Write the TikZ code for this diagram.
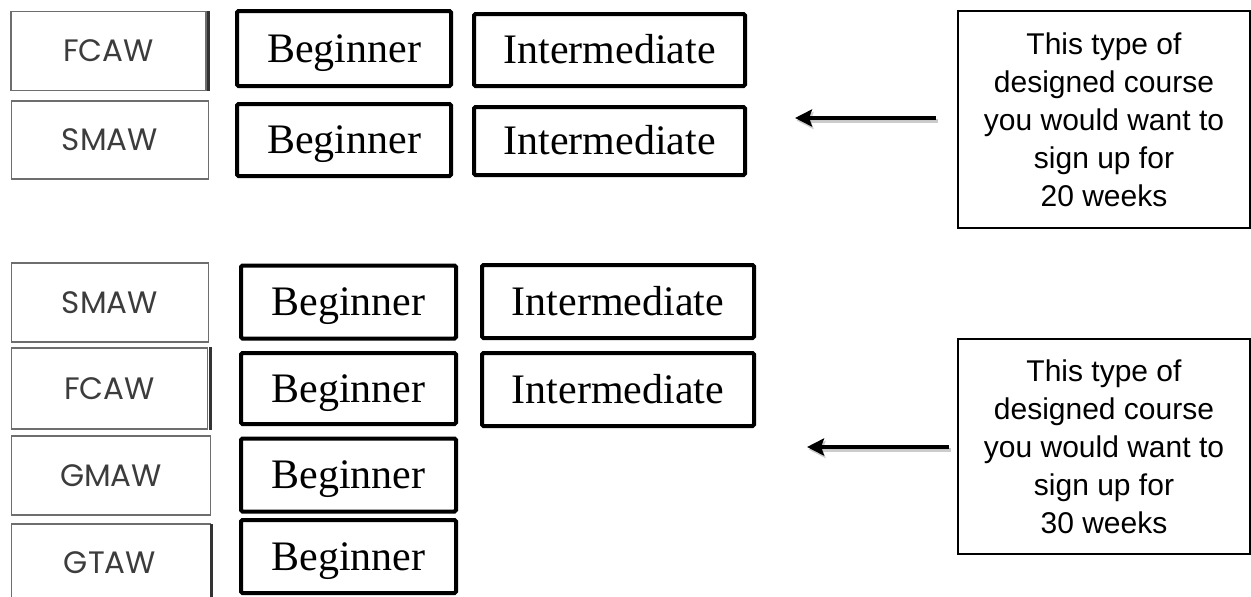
\documentclass[tikz,border=0pt]{standalone}
\usepackage{fontspec}
\setmainfont{Liberation Serif}
\newfontfamily\weldfont{Poppins}
\newfontfamily\notefont{Liberation Sans}
\usetikzlibrary{arrows.meta}
\definecolor{weldgray}{HTML}{3C3C3C}
\definecolor{edgegray}{HTML}{6E6E6E}
\begin{document}
\begin{tikzpicture}[x=1pt,y=-1pt,
  weld/.style={draw=edgegray, line width=1.2pt, minimum width=195pt, minimum height=79pt,
    inner sep=0pt, text=weldgray, font=\weldfont\fontsize{31}{36}\selectfont},
  level/.style={draw=black, line width=4pt, rounded corners=1.5pt, minimum height=73pt,
    inner sep=0pt, text height=27pt, text depth=0pt, font=\fontsize{42}{48}\selectfont},
  beg/.style={level, minimum width=215pt},
  inter/.style={level, minimum width=272pt},
  note/.style={draw=black, line width=1.2pt, inner sep=0pt, minimum width=292pt,
    align=center, font=\notefont\fontsize{30}{38}\selectfont},
  thickedge/.style={draw=black!80, line width=3pt},
  pointer/.style={line width=4pt, -{Stealth[length=17pt,width=17pt,inset=3pt]}},
  pshadow/.style={pointer, draw=black, fill=black, opacity=0.2}]
\useasboundingbox (0,0) rectangle (1251,597);
% 20 weeks
\node[weld] (fcawa) at (108.5,51) {FCAW};
\node[weld, minimum width=197pt, minimum height=78pt] (smawa) at (110,140) {SMAW};
\draw[thickedge] ([xshift=2pt]fcawa.north east) -- ([xshift=2pt]fcawa.south east);
\node[beg, minimum width=214pt, minimum height=75pt] (bega) at (344,48.5) {Beginner};
\node[beg, minimum width=214pt, minimum height=72pt] (begb) at (344,140) {Beginner};
\node[inter, minimum width=271pt, minimum height=72pt] (inta) at (609.5,50) {Intermediate};
\node[inter, minimum width=271pt, minimum height=68pt] (intb) at (609.5,141) {Intermediate};
\node[note, minimum height=217pt] (notea) at (1104,119.5)
  {This type of\\designed course\\you would want to\\sign up for\\20 weeks};
\coordinate (tipa) at (795,118);
% 30 weeks
\node[weld, minimum width=197pt] (smawb) at (110,302.5) {SMAW};
\node[weld, minimum width=196pt, minimum height=81pt] (fcawb) at (109.5,388.5) {FCAW};
\draw[thickedge] ([xshift=2pt]fcawb.north east) -- ([xshift=2pt]fcawb.south east);
\node[weld, minimum width=199pt] (gmaw) at (111,475.5) {GMAW};
\node[text=weldgray, font=\weldfont\fontsize{31}{36}\selectfont] (gtaw) at (110,563) {GTAW};
\draw[edgegray, line width=1.2pt] (11.5,600) |- (211,524);
\draw[thickedge] (211,524) -- (211,600);
\node[beg] (begc) at (348.5,302) {Beginner};
\node[beg, minimum height=71pt] (begd) at (348.5,388.5) {Beginner};
\node[beg] (bege) at (348.5,475) {Beginner};
\node[beg] (begf) at (348.5,556.5) {Beginner};
\node[inter] (intc) at (618,301.5) {Intermediate};
\node[inter] (intd) at (618,389.5) {Intermediate};
\node[note, minimum height=215pt] (noteb) at (1104,446.5)
  {This type of\\designed course\\you would want to\\sign up for\\30 weeks};
\coordinate (tipb) at (807,447);
% pointers
\draw[pshadow, shorten <=21pt, transform canvas={shift={(1.5pt,-2.5pt)}}] (notea.west |- tipa) -- (tipa);
\draw[pointer, shorten <=21pt] (notea.west |- tipa) -- (tipa);
\draw[pshadow, shorten <=8pt, transform canvas={shift={(1.5pt,-2.5pt)}}] (noteb.west |- tipb) -- (tipb);
\draw[pointer, shorten <=8pt] (noteb.west |- tipb) -- (tipb);
\end{tikzpicture}
\end{document}
